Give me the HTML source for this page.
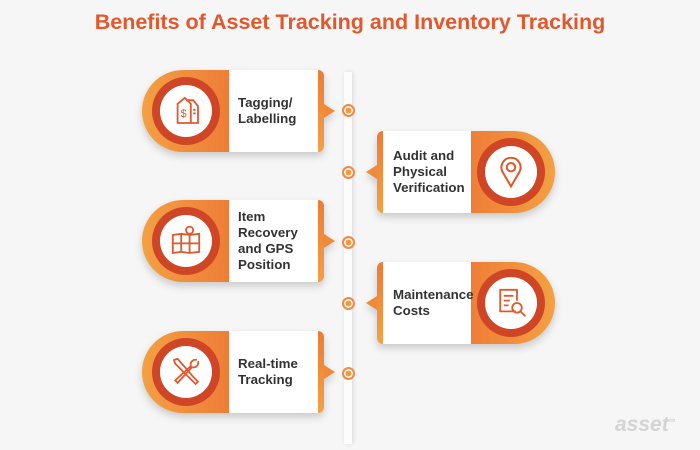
<!DOCTYPE html>
<html><head><meta charset="utf-8"><style>
body{margin:0;width:700px;height:450px;background:#f6f6f6;position:relative;overflow:hidden;font-family:"Liberation Sans",sans-serif}
.t{position:absolute;top:10px;left:0;width:700px;text-align:center;color:#e2582c;font-weight:bold;font-size:21.5px}
.line{position:absolute;left:344px;top:72px;width:8px;height:372px;background:#fcfcfc;box-shadow:1px 0 5px rgba(0,0,0,.12)}
.dot{position:absolute;width:9px;height:9px;border:2px solid #f0894a;border-radius:50%;background:#f29a3c;box-shadow:inset 0 0 0 1.5px #fff}
.c{position:absolute;height:82px;width:182px;filter:drop-shadow(0 4px 4px rgba(0,0,0,.18))}
.pill{position:absolute;top:0;height:82px;width:92px;background:linear-gradient(90deg,#f3a043,#ee7b36)}
.L .pill{left:0;border-radius:41px 0 0 41px}
.R .pill{right:4px;border-radius:0 41px 41px 0;background:linear-gradient(90deg,#ee7b36,#f3a043)}
.wb{position:absolute;top:0;height:82px;width:89px;background:#fff;font-weight:bold;font-size:13.3px;color:#333;line-height:16px;display:flex;align-items:center;white-space:nowrap}
.L .wb{left:87px;padding-left:9px;box-sizing:border-box}
.R .wb{left:6px;padding-left:10px;box-sizing:border-box;width:88px}
.st{position:absolute;top:0;height:82px;width:6px;background:linear-gradient(#ee7b36,#f3a043)}
.L .st{left:176px;border-radius:0 6px 6px 0}
.R .st{left:0;border-radius:6px 0 0 6px}
.ar{position:absolute;top:34px;width:0;height:0;border-top:7px solid transparent;border-bottom:7px solid transparent}
.L .ar{left:182px;border-left:11px solid #ef8a3a}
.R .ar{left:-11px;border-right:11px solid #ef8a3a}
.ring{position:absolute;top:7px;width:68px;height:68px;border-radius:50%;background:#cf4626;display:flex;align-items:center;justify-content:center}
.L .ring{left:10px}.R .ring{right:14px}
.in{width:52px;height:52px;border-radius:50%;background:#fff;display:flex;align-items:center;justify-content:center}
.in svg{width:36px;height:36px}
.logo{position:absolute;left:615px;top:413px;color:#d4d4d4;font-weight:bold;font-style:italic;font-size:21px}
</style></head><body>
<div class="t">Benefits of Asset Tracking and Inventory Tracking</div>
<div class="line"></div>
<div class="dot" style="left:342px;top:104px"></div>
<div class="dot" style="left:342px;top:166px"></div>
<div class="dot" style="left:342px;top:236px"></div>
<div class="dot" style="left:342px;top:297px"></div>
<div class="dot" style="left:342px;top:367px"></div>

<div class="c L" style="left:142px;top:70px"><div class="pill"></div><div class="wb">Tagging/<br>Labelling</div><div class="st"></div><div class="ar"></div>
<div class="ring"><div class="in"><svg viewBox="0 0 30 30" fill="none" stroke="#e2582c" stroke-width="1.5"><path d="M8 9 L14 4 L19 9 L19 25 L8 25 Z"/><path d="M15 6 L21 6 L25 11 L25 25 L19 25"/><path d="M21 14 H23 M21 17 H23"/><text x="10.5" y="20" font-size="9" fill="#e2582c" stroke="none" font-family="Liberation Sans">$</text></svg></div></div></div>

<div class="c R" style="left:377px;top:131px"><div class="pill"></div><div class="wb">Audit and<br>Physical<br>Verification</div><div class="st"></div><div class="ar"></div>
<div class="ring"><div class="in"><svg viewBox="0 0 30 30" fill="none" stroke="#e2582c" stroke-width="1.7"><path d="M15 27 L8 15 A8 8 0 1 1 22 15 Z"/><circle cx="15" cy="11" r="3.5"/></svg></div></div></div>

<div class="c L" style="left:142px;top:200px"><div class="pill"></div><div class="wb">Item<br>Recovery<br>and GPS<br>Position</div><div class="st"></div><div class="ar"></div>
<div class="ring"><div class="in"><svg viewBox="0 0 30 30" fill="none" stroke="#e2582c" stroke-width="1.5"><path d="M4 10 L11 9 L18 10 L26 9 L26 24 L18 25 L11 24 L4 25 Z M11 9 V24 M18 10 V25 M4 17 H26"/><circle cx="18" cy="6" r="3"/></svg></div></div></div>

<div class="c R" style="left:377px;top:262px"><div class="pill"></div><div class="wb">Maintenance<br>Costs</div><div class="st"></div><div class="ar"></div>
<div class="ring"><div class="in"><svg viewBox="0 0 30 30" fill="none" stroke="#e2582c" stroke-width="1.5"><path d="M19 22 H6 V4 H20 V13"/><path d="M9 9 H17 M9 13 H14 M9 17 H13"/><circle cx="20" cy="19" r="4"/><path d="M23 22 L27 26"/></svg></div></div></div>

<div class="c L" style="left:142px;top:331px"><div class="pill"></div><div class="wb">Real-time<br>Tracking</div><div class="st"></div><div class="ar"></div>
<div class="ring"><div class="in"><svg viewBox="0 0 30 30" fill="none" stroke="#e2582c" stroke-width="1.5"><path d="M5 5 L8 4 L21 19 L25 23 L23 25 L19 21 L6 8 Z"/><path d="M24 5 A4 4 0 0 0 19 10 L6 22 L8 24 L20 11 A4 4 0 0 0 25 6"/></svg></div></div></div>

<div class="logo">asset<sup style="font-size:9px">∞</sup></div>
</body></html>
